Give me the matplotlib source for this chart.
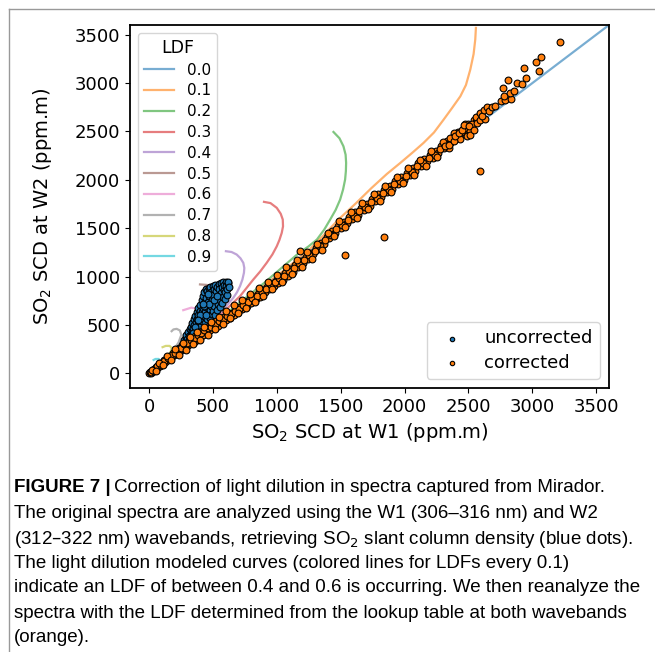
import matplotlib
matplotlib.use('Agg')
import matplotlib.pyplot as plt
from matplotlib.lines import Line2D
from matplotlib import font_manager

# LDF model curves (W1 SCD, W2 SCD)
ldf_labels = ['0.0', '0.1', '0.2', '0.3', '0.4', '0.5', '0.6', '0.7', '0.8', '0.9']
ldf_x = [
    [0, 3700],
    [0, 600, 1000, 1240, 1360, 1482, 1620, 1740, 1860, 1966, 2060, 2148, 2230, 2305, 2370,
     2436, 2480, 2514, 2540, 2553, 2558],
    [0, 500, 900, 1168, 1245, 1313, 1370, 1417, 1460, 1495, 1518, 1534, 1540, 1542, 1538,
     1521, 1490, 1443],
    [0, 300, 554, 711, 815, 870, 920, 965, 999, 1020, 1038, 1048, 1046, 1030, 999, 950, 899],
    [0, 250, 450, 580, 659, 688, 711, 730, 742, 745, 737, 715, 685, 645, 601],
    [0, 250, 400, 480, 505, 510, 489, 450, 398],
    [0, 200, 330, 390, 398, 370, 330, 267],
    [0, 150, 230, 252, 240, 215, 190, 176],
    [0, 120, 170, 176, 160, 130, 105],
    [0, 60, 85, 75, 50, 35],
]
ldf_y = [
    [0, 3700],
    [0, 605, 1010, 1260, 1420, 1590, 1760, 1915, 2060, 2175, 2280, 2382, 2490, 2622, 2740,
     2863, 2980, 3139, 3300, 3450, 3570],
    [0, 510, 935, 1240, 1310, 1383, 1485, 1590, 1690, 1796, 1900, 2003, 2090, 2175, 2260,
     2347, 2430, 2495],
    [0, 310, 600, 798, 970, 1055, 1143, 1230, 1314, 1380, 1453, 1520, 1590, 1650, 1711, 1760,
     1773],
    [0, 260, 490, 661, 782, 840, 901, 970, 1040, 1090, 1143, 1190, 1229, 1255, 1263],
    [0, 260, 480, 680, 780, 860, 905, 915, 920],
    [0, 210, 400, 560, 643, 670, 680, 654],
    [0, 160, 320, 400, 445, 461, 455, 437],
    [0, 130, 230, 265, 285, 285, 272],
    [0, 65, 120, 150, 150, 140],
]

# uncorrected retrievals (blue dots)
uncorr_w1 = [275, 285, 292, 300, 305, 312, 318, 325, 330, 335, 338, 345, 350, 352, 358, 362,
             365, 370, 372, 376, 380, 384, 386, 390, 392, 396, 400, 404, 407, 410, 412, 416,
             420, 422, 426, 430, 432, 436, 438, 442, 445, 448, 452, 455, 458, 462, 466, 470,
             473, 476, 480, 483, 486, 490, 493, 497, 500, 503, 507, 510, 514, 518, 520, 524,
             528, 532, 536, 540, 544, 548, 552, 556, 560, 564, 568, 572, 576, 580, 584, 588,
             592, 596, 600, 604, 608, 612, 616, 620, 622, 458, 430, 470, 505, 530, 400, 380,
             420, 445, 360, 340, 320]
uncorr_w2 = [345, 372, 398, 360, 425, 390, 455, 410, 480, 440, 520, 465, 560, 500, 420, 590,
             530, 470, 630, 560, 505, 680, 600, 450, 540, 650, 710, 580, 495, 760, 630, 540,
             800, 680, 590, 840, 730, 520, 640, 870, 780, 690, 560, 850, 610, 740, 880, 800,
             660, 570, 890, 700, 840, 610, 760, 900, 650, 810, 870, 700, 600, 910, 760, 850,
             660, 890, 720, 800, 925, 870, 690, 760, 935, 830, 890, 730, 790, 945, 860, 910,
             770, 840, 950, 900, 810, 870, 935, 950, 890, 820, 700, 720, 760, 800, 600, 550,
             720, 600, 480, 420, 370]

# corrected retrievals (orange dots)
corr_w1 = [0, 8, 15, 22, 30, 40, 48, 55, 65, 75, 85, 95, 105, 115, 125, 138, 150, 160, 172,
           185, 195, 208, 220, 232, 245, 258, 270, 282, 295, 308, 320, 335, 348, 360, 372, 385,
           398, 410, 425, 440, 455, 468, 480, 495, 510, 525, 540, 555, 570, 585, 600, 615, 630,
           648, 665, 680, 698, 715, 730, 748, 765, 782, 800, 818, 835, 852, 870, 888, 905, 922,
           940, 958, 975, 992, 1010, 1030, 1048, 1065, 1085, 1105, 1125, 1145, 1165, 1185, 1205,
           1225, 1245, 1265, 1285, 1305, 1325, 1345, 1368, 1390, 1410, 1432, 1455, 1478, 1500,
           1522, 1545, 1568, 1590, 1612, 1635, 1658, 1680, 1702, 1725, 1748, 1770, 1792, 1815,
           1838, 1860, 1882, 1905, 1928, 1950, 1972, 1995, 2018, 2040, 2062, 2085, 2108, 2130,
           2152, 2175, 2198, 2220, 2242, 2265, 2288, 2310, 2332, 2355, 2378, 2400, 2420, 2440,
           2460, 2480, 2500, 2520, 2540, 2560, 2580,
           12, 35, 60, 90, 120, 145, 178, 200, 225, 252, 276, 300, 328, 355, 380, 405, 432, 460,
           488, 518, 548, 578, 608, 640, 672, 705, 738, 772, 808, 845, 880, 915, 950, 985, 1020,
           1058, 1095, 1135, 1175, 1215, 1255, 1295, 1335, 1378, 1420, 1465, 1510, 1555, 1600,
           1645, 1690, 1738, 1785, 1830, 1875, 1920, 1965, 2010, 2055, 2100, 2145, 2190, 2235,
           2280, 2325, 2370, 2415, 2450, 2490, 2530, 2570,
           20, 50, 80, 110, 140, 170, 200, 230, 262, 290, 318, 345, 372, 400, 430, 458, 485, 515,
           545, 575, 605, 635, 665, 695, 725, 755, 790, 825, 860, 895, 930, 965, 1000, 1040,
           1075, 1115, 1155, 1195, 1235, 1275, 1315, 1355, 1400, 1445, 1490, 1535, 1580, 1625,
           1670, 1715, 1760, 1805, 1850, 1895, 1940, 1985, 2030, 2075, 2120, 2165, 2210, 2255,
           2300, 2345, 2390, 2435, 2475, 2515, 2555,
           2319, 2358, 2345, 2384, 2397, 2423, 2450, 2462, 2489, 2501, 2515, 2541, 2567, 2593,
           2593, 2632, 2606, 2619, 2646, 2658, 2685, 2711, 2758, 2789, 2834, 2776, 2828, 2860,
           2768, 2810, 2880, 2920, 2951, 2938, 3050, 3029, 3071, 3220,
           1534, 2588, 1835, 1182]
corr_w2 = [5, 15, 8, 30, 25, 48, 40, 70, 60, 90, 78, 110, 95, 135, 118, 160, 140, 185, 165,
           215, 190, 235, 210, 265, 235, 290, 255, 310, 280, 335, 300, 360, 330, 390, 350, 410,
           370, 440, 400, 465, 425, 490, 445, 510, 470, 540, 495, 560, 520, 580, 550, 600, 570,
           625, 600, 655, 640, 690, 670, 725, 700, 760, 730, 790, 770, 820, 795, 860, 840, 890,
           870, 925, 900, 960, 935, 1000, 970, 1040, 1010, 1080, 1050, 1120, 1095, 1160, 1140,
           1200, 1180, 1245, 1230, 1300, 1285, 1350, 1340, 1410, 1400, 1470, 1450, 1520, 1500,
           1570, 1550, 1620, 1600, 1665, 1640, 1710, 1690, 1750, 1730, 1800, 1780, 1850, 1820,
           1895, 1870, 1935, 1910, 1985, 1960, 2030, 2000, 2075, 2050, 2120, 2090, 2170, 2140,
           2215, 2190, 2260, 2230, 2300, 2280, 2350, 2330, 2400, 2380, 2440, 2430, 2490, 2470,
           2530, 2510, 2580, 2560, 2620, 2600, 2660,
           20, 30, 75, 85, 130, 160, 195, 215, 250, 260, 300, 315, 350, 370, 395, 420, 445, 470,
           480, 505, 540, 555, 590, 610, 650, 665, 710, 735, 775, 800, 845, 870, 915, 940, 985,
           1010, 1060, 1090, 1140, 1170, 1225, 1265, 1320, 1380, 1430, 1490, 1535, 1590, 1625,
           1680, 1715, 1770, 1815, 1865, 1900, 1955, 1990, 2045, 2085, 2140, 2170, 2230, 2260,
           2320, 2355, 2415, 2445, 2490, 2540, 2580, 2620,
           35, 30, 110, 85, 185, 140, 250, 190, 320, 245, 375, 300, 430, 350, 485, 400, 535, 455,
           580, 510, 650, 570, 705, 625, 760, 680, 820, 740, 880, 805, 950, 875, 1020, 950,
           1095, 1025, 1175, 1105, 1255, 1185, 1340, 1280, 1450, 1420, 1575, 1515, 1670, 1605,
           1760, 1695, 1850, 1785, 1940, 1875, 2030, 1965, 2120, 2055, 2210, 2145, 2300, 2235,
           2390, 2325, 2480, 2420, 2580, 2510, 2650,
           2347, 2433, 2364, 2398, 2450, 2485, 2519, 2571, 2450, 2560, 2467, 2519, 2588, 2691,
           2622, 2630, 2657, 2726, 2753, 2708, 2753, 2767, 2818, 2829, 2839, 2870, 2898, 2915,
           2950, 3028, 3001, 2991, 3056, 3152, 3121, 3214, 3266, 3421,
           1221, 2089, 1411, 1263]

caption = [
    'The original spectra are analyzed using the W1 (306\u2013316 nm) and W2',
    '(312\u2013322 nm) wavebands, retrieving SO$_2$ slant column density (blue dots).',
    'The light dilution modeled curves (colored lines for LDFs every 0.1)',
    'indicate an LDF of between 0.4 and 0.6 is occurring. We then reanalyze the',
    'spectra with the LDF determined from the lookup table at both wavebands',
    '(orange).',
]

names = set(f.name for f in font_manager.fontManager.ttflist)
cap_font = 'Liberation Sans Narrow' if 'Liberation Sans Narrow' in names else 'Liberation Sans'

W, H = 655, 652
fig = plt.figure(figsize=(W / 100, H / 100), dpi=100)
ax = fig.add_axes([130 / W, 1 - 388 / H, 479 / W, 363 / H])

colors = plt.rcParams['axes.prop_cycle'].by_key()['color']
lines = []
for i in range(len(ldf_labels)):
    ln, = ax.plot(ldf_x[i], ldf_y[i], color=colors[i], alpha=0.6, lw=1.6)
    lines.append(ln)

sc1 = ax.scatter(uncorr_w1, uncorr_w2, s=24, color='#1f77b4', edgecolors='black',
                 linewidths=0.8, zorder=3)
sc2 = ax.scatter(corr_w1, corr_w2, s=24, color='#ff7f0e', edgecolors='black',
                 linewidths=0.8, zorder=4)

ax.set_xlim(-150, 3600)
ax.set_ylim(-150, 3600)
ax.set_xticks(range(0, 3501, 500))
ax.set_yticks(range(0, 3501, 500))
ax.tick_params(labelsize=13)
for s in ax.spines.values():
    s.set_linewidth(1.3)
ax.set_xlabel('SO$_2$ SCD at W1 (ppm.m)', fontsize=14)
ax.set_ylabel('SO$_2$ SCD at W2 (ppm.m)', fontsize=14, labelpad=15)

leg1 = ax.legend(lines, ldf_labels, title='LDF', loc='upper left', fontsize=11,
                 title_fontsize=12.5, labelspacing=0.38)
ax.add_artist(leg1)
ax.legend([sc1, sc2], ['uncorrected', 'corrected'], loc='lower right', fontsize=13,
          markerscale=0.65, labelspacing=0.35)

# page frame
fig.add_artist(Line2D([8.5 / W, 8.5 / W], [0, 1 - 8.5 / H], color='#999999', lw=1))
fig.add_artist(Line2D([8.5 / W, 1], [1 - 8.5 / H, 1 - 8.5 / H], color='#999999', lw=1))

# caption
ys = [486, 511, 536, 561, 586, 611, 636]
t0 = fig.text(14 / W, 1 - ys[0] / H, 'FIGURE 7 |', fontsize=13.5, fontweight='bold',
              family=cap_font, va='center_baseline')
r = fig.canvas.get_renderer()
bb = t0.get_window_extent(r)
fig.text(bb.x1 / W + 3 / W, 1 - ys[0] / H,
         'Correction of light dilution in spectra captured from Mirador.',
         fontsize=13.5, family=cap_font, va='center_baseline')
for k, line in enumerate(caption):
    fig.text(14 / W, 1 - ys[k + 1] / H, line, fontsize=13.5, family=cap_font,
             va='center_baseline')

fig.savefig('out.png', dpi=100)
